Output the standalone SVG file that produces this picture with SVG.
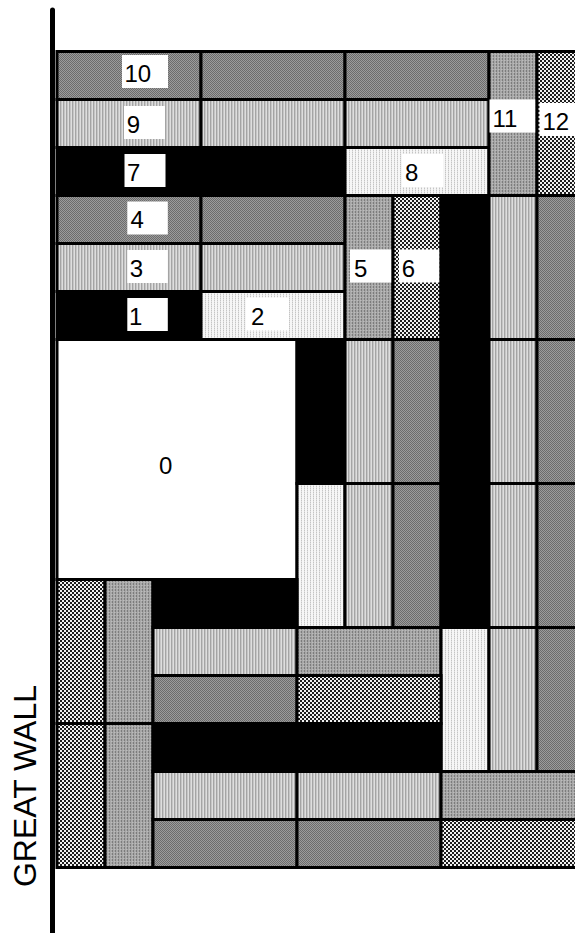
<svg xmlns="http://www.w3.org/2000/svg" width="575" height="933" viewBox="0 0 575 933">
<style>
.b{stroke:#000;stroke-width:3}
.dk{fill:url(#pDark)}
.lt{fill:url(#pLight)}
.vl{fill:url(#pVLight)}
.md{fill:url(#pMed)}
.ck{fill:url(#pCheck)}
.bk{fill:#000}
.wh{fill:#fff}
.lb{fill:#fff}
text{font-family:"Liberation Sans",Arial,sans-serif;font-size:24px;fill:#000}
</style>
<defs>
<pattern id="pDark" width="2" height="2" patternUnits="userSpaceOnUse"><rect width="2" height="2" fill="#9c9c9c"/><path d="M0 0h1v1H0zM1 1h1v1H1z" fill="#6c6c6c"/></pattern>
<pattern id="pLight" width="3" height="3" patternUnits="userSpaceOnUse"><rect width="3" height="3" fill="#c6c6c6"/><rect width="1" height="3" fill="#a4a4a4"/><rect x="2" width="1" height="3" fill="#dedede"/></pattern>
<pattern id="pVLight" width="3" height="2" patternUnits="userSpaceOnUse"><rect width="3" height="2" fill="#f6f6f6"/><rect x="1" width="1" height="1" fill="#c4c4c4"/><rect x="1" y="1" width="1" height="1" fill="#e0e0e0"/></pattern>
<pattern id="pMed" width="3" height="3" patternUnits="userSpaceOnUse"><rect width="3" height="3" fill="#a8a8a8"/><rect x="1" y="1" width="1" height="2" fill="#7c7c7c"/><rect x="0" y="0" width="1" height="1" fill="#bcbcbc"/></pattern>
<pattern id="pCheck" width="4" height="4" patternUnits="userSpaceOnUse"><rect width="4" height="4" fill="#f2f2f2"/><path d="M0 0h2v2H0zM2 2h2v2H2z" fill="#1e1e1e"/></pattern>
</defs>
<rect width="575" height="933" fill="#fff"/>
<g id="bricks">
<g id="n10"><rect class="b dk" x="57" y="51.5" width="144" height="48"/><rect class="lb" x="122" y="55" width="46" height="33"/><text x="124.4" y="82">10</text></g>
<g id="r0b"><rect class="b dk" x="201" y="51.5" width="144" height="48"/></g>
<g id="r0c"><rect class="b dk" x="345" y="51.5" width="144" height="48"/></g>
<g id="n9"><rect class="b lt" x="57" y="99.5" width="144" height="48"/><rect class="lb" x="124" y="106" width="41" height="33"/><text x="126.7" y="133">9</text></g>
<g id="r1b"><rect class="b lt" x="201" y="99.5" width="144" height="48"/></g>
<g id="r1c"><rect class="b lt" x="345" y="99.5" width="144" height="48"/></g>
<g id="n7"><rect class="b bk" x="57" y="147.5" width="144" height="48"/><rect class="lb" x="124.5" y="154" width="41" height="33"/><text x="127" y="181">7</text></g>
<g id="r2b"><rect class="b bk" x="201" y="147.5" width="144" height="48"/></g>
<g id="n8"><rect class="b vl" x="345" y="147.5" width="144" height="48"/><rect class="lb" x="402" y="154" width="41" height="33"/><text x="405" y="181">8</text></g>
<g id="n4"><rect class="b dk" x="57" y="195.5" width="144" height="48"/><rect class="lb" x="127.3" y="201.5" width="40.5" height="33"/><text x="130.5" y="228">4</text></g>
<g id="r3b"><rect class="b dk" x="201" y="195.5" width="144" height="48"/></g>
<g id="n3"><rect class="b lt" x="57" y="243.5" width="144" height="48"/><rect class="lb" x="127.3" y="250" width="40.5" height="33"/><text x="129.7" y="277">3</text></g>
<g id="r4b"><rect class="b lt" x="201" y="243.5" width="144" height="48"/></g>
<g id="n1"><rect class="b bk" x="57" y="291.5" width="144" height="48"/><rect class="lb" x="127.3" y="298" width="40.5" height="33"/><text x="129" y="325">1</text></g>
<g id="n2"><rect class="b vl" x="201" y="291.5" width="144" height="48"/><rect class="lb" x="246" y="297.5" width="43" height="33"/><text x="251" y="324.5">2</text></g>
<g id="n11"><rect class="b md" x="489" y="51.5" width="48" height="144"/><rect class="lb" x="489.5" y="99.5" width="46" height="33"/><text x="492.4" y="126.5">11</text></g>
<g id="n12"><rect class="b ck" x="537" y="51.5" width="48" height="144"/><rect class="lb" x="539.5" y="103" width="40" height="33"/><text x="542.4" y="130">12</text></g>
<g id="n5"><rect class="b md" x="345" y="195.5" width="48" height="144"/><rect class="lb" x="350" y="249.5" width="41.5" height="33"/><text x="354" y="276.7">5</text></g>
<g id="n6"><rect class="b ck" x="393" y="195.5" width="48" height="144"/><rect class="lb" x="399" y="249.5" width="40.5" height="33"/><text x="401.7" y="276.7">6</text></g>
<g id="c8r3"><rect class="b bk" x="441" y="195.5" width="48" height="144"/></g>
<g id="c9r3"><rect class="b lt" x="489" y="195.5" width="48" height="144"/></g>
<g id="c10r3"><rect class="b dk" x="537" y="195.5" width="48" height="144"/></g>
<g id="n0"><rect class="b wh" x="57" y="339.5" width="240" height="240"/><text x="159" y="474">0</text></g>
<g id="c5r6"><rect class="b bk" x="297" y="339.5" width="48" height="144"/></g>
<g id="c6r6"><rect class="b lt" x="345" y="339.5" width="48" height="144"/></g>
<g id="c7r6"><rect class="b dk" x="393" y="339.5" width="48" height="144"/></g>
<g id="c8r6"><rect class="b bk" x="441" y="339.5" width="48" height="144"/></g>
<g id="c9r6"><rect class="b lt" x="489" y="339.5" width="48" height="144"/></g>
<g id="c10r6"><rect class="b dk" x="537" y="339.5" width="48" height="144"/></g>
<g id="c5r9"><rect class="b vl" x="297" y="483.5" width="48" height="144"/></g>
<g id="c6r9"><rect class="b lt" x="345" y="483.5" width="48" height="144"/></g>
<g id="c7r9"><rect class="b dk" x="393" y="483.5" width="48" height="144"/></g>
<g id="c8r9"><rect class="b bk" x="441" y="483.5" width="48" height="144"/></g>
<g id="c9r9"><rect class="b lt" x="489" y="483.5" width="48" height="144"/></g>
<g id="c10r9"><rect class="b dk" x="537" y="483.5" width="48" height="144"/></g>
<g id="c0r11"><rect class="b ck" x="57" y="579.5" width="48" height="144"/></g>
<g id="c1r11"><rect class="b md" x="105" y="579.5" width="48" height="144"/></g>
<g id="c2r11"><rect class="b bk" x="153" y="579.5" width="144" height="48"/></g>
<g id="c2r12"><rect class="b lt" x="153" y="627.5" width="144" height="48"/></g>
<g id="c5r12"><rect class="b md" x="297" y="627.5" width="144" height="48"/></g>
<g id="c8r12"><rect class="b vl" x="441" y="627.5" width="48" height="144"/></g>
<g id="c9r12"><rect class="b lt" x="489" y="627.5" width="48" height="144"/></g>
<g id="c10r12"><rect class="b dk" x="537" y="627.5" width="48" height="144"/></g>
<g id="c2r13"><rect class="b dk" x="153" y="675.5" width="144" height="48"/></g>
<g id="c5r13"><rect class="b ck" x="297" y="675.5" width="144" height="48"/></g>
<g id="c0r14"><rect class="b ck" x="57" y="723.5" width="48" height="144"/></g>
<g id="c1r14"><rect class="b md" x="105" y="723.5" width="48" height="144"/></g>
<g id="c2r14"><rect class="b bk" x="153" y="723.5" width="144" height="48"/></g>
<g id="c5r14"><rect class="b bk" x="297" y="723.5" width="144" height="48"/></g>
<g id="c2r15"><rect class="b lt" x="153" y="771.5" width="144" height="48"/></g>
<g id="c5r15"><rect class="b lt" x="297" y="771.5" width="144" height="48"/></g>
<g id="c8r15"><rect class="b md" x="441" y="771.5" width="144" height="48"/></g>
<g id="c2r16"><rect class="b dk" x="153" y="819.5" width="144" height="48"/></g>
<g id="c5r16"><rect class="b dk" x="297" y="819.5" width="144" height="48"/></g>
<g id="c8r16"><rect class="b ck" x="441" y="819.5" width="144" height="48"/></g>
</g>
<g id="wall">
<line x1="52.5" y1="10" x2="52.5" y2="940" stroke="#000" stroke-width="5" stroke-linecap="round"/>
<text transform="translate(36,786) rotate(-90)" text-anchor="middle" style="font-size:32px">GREAT WALL</text>
</g>
</svg>
